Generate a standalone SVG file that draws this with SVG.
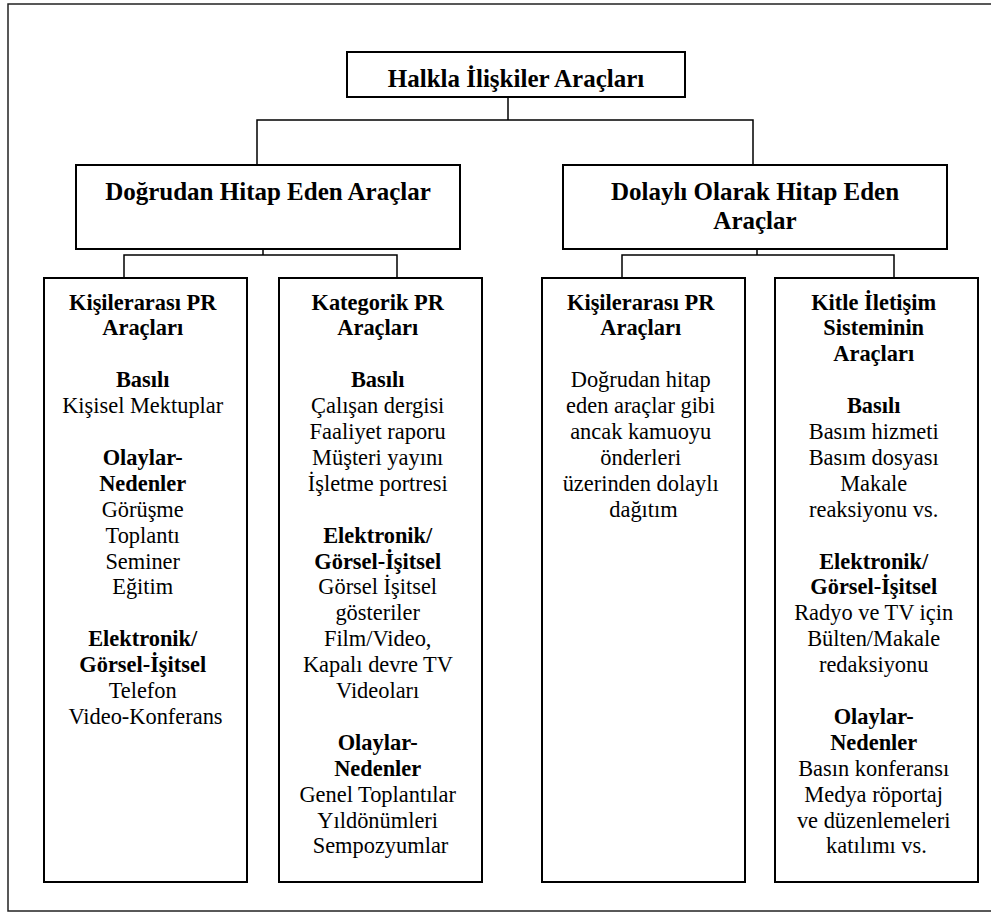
<svg xmlns="http://www.w3.org/2000/svg" width="991" height="912" viewBox="0 0 991 912">
<style>
.box{fill:#fff;stroke:#000;stroke-width:2}
.frame{fill:none;stroke:#222;stroke-width:1.5}
.con{fill:none;stroke:#000;stroke-width:1.5}
text{font-family:'Liberation Serif','Times New Roman',serif;fill:#000;text-anchor:middle}
.h{font-size:25px;font-weight:bold}
.t{font-size:22.4px}
.b{font-weight:bold}
</style>
<rect class="frame" x="8" y="4" width="1000" height="907"/>
<g id="connectors">
<polyline class="con" points="508,97 508,120"/>
<polyline class="con" points="257,164 257,120 753,120 753,164"/>
<polyline class="con" points="263,249 263,255"/>
<polyline class="con" points="124,278 124,255 397,255 397,278"/>
<polyline class="con" points="757,249 757,255"/>
<polyline class="con" points="622,278 622,255 894,255 894,278"/>
</g>
<g id="root">
<rect class="box" x="347" y="52" width="338" height="45"/>
<text class="h" x="516" y="86.5">Halkla İlişkiler Araçları</text>
</g>
<g id="direct">
<rect class="box" x="76" y="165" width="384" height="84"/>
<text class="h" x="268" y="200">Doğrudan Hitap Eden Araçlar</text>
</g>
<g id="indirect">
<rect class="box" x="563" y="165" width="384" height="84"/>
<text class="h" x="755" y="199.5">Dolaylı Olarak Hitap Eden</text>
<text class="h" x="755" y="228.5">Araçlar</text>
</g>
<g id="direct-interpersonal">
<rect class="box" x="44" y="278" width="203" height="604"/>
<text class="t" x="145.5">
<tspan class="b" x="145.5" y="309.5">Kişilerarası PR</tspan>
<tspan class="b" x="145.5" y="335.4">Araçları</tspan>
<tspan class="b" x="145.5" y="387.2">Basılı</tspan>
<tspan x="145.5" y="413.1">Kişisel Mektuplar</tspan>
<tspan class="b" x="145.5" y="464.9">Olaylar-</tspan>
<tspan class="b" x="145.5" y="490.8">Nedenler</tspan>
<tspan x="145.5" y="516.7">Görüşme</tspan>
<tspan x="145.5" y="542.6">Toplantı</tspan>
<tspan x="145.5" y="568.5">Seminer</tspan>
<tspan x="145.5" y="594.4">Eğitim</tspan>
<tspan class="b" x="145.5" y="646.2">Elektronik/</tspan>
<tspan class="b" x="145.5" y="672.1">Görsel-İşitsel</tspan>
<tspan x="145.5" y="698">Telefon</tspan>
<tspan x="145.5" y="723.9">Video-Konferans</tspan>
</text>
</g>
<g id="direct-categorical">
<rect class="box" x="279" y="278" width="203" height="604"/>
<text class="t" x="380.5">
<tspan class="b" x="380.5" y="309.5">Kategorik PR</tspan>
<tspan class="b" x="380.5" y="335.4">Araçları</tspan>
<tspan class="b" x="380.5" y="387.2">Basılı</tspan>
<tspan x="380.5" y="413.1">Çalışan dergisi</tspan>
<tspan x="380.5" y="439">Faaliyet raporu</tspan>
<tspan x="380.5" y="464.9">Müşteri yayını</tspan>
<tspan x="380.5" y="490.8">İşletme portresi</tspan>
<tspan class="b" x="380.5" y="542.6">Elektronik/</tspan>
<tspan class="b" x="380.5" y="568.5">Görsel-İşitsel</tspan>
<tspan x="380.5" y="594.4">Görsel İşitsel</tspan>
<tspan x="380.5" y="620.3">gösteriler</tspan>
<tspan x="380.5" y="646.2">Film/Video,</tspan>
<tspan x="380.5" y="672.1">Kapalı devre TV</tspan>
<tspan x="380.5" y="698">Videoları</tspan>
<tspan class="b" x="380.5" y="749.8">Olaylar-</tspan>
<tspan class="b" x="380.5" y="775.7">Nedenler</tspan>
<tspan x="380.5" y="801.6">Genel Toplantılar</tspan>
<tspan x="380.5" y="827.5">Yıldönümleri</tspan>
<tspan x="380.5" y="853.4">Sempozyumlar</tspan>
</text>
</g>
<g id="indirect-interpersonal">
<rect class="box" x="542" y="278" width="203" height="604"/>
<text class="t" x="643.5">
<tspan class="b" x="643.5" y="309.5">Kişilerarası PR</tspan>
<tspan class="b" x="643.5" y="335.4">Araçları</tspan>
<tspan x="643.5" y="387.2">Doğrudan hitap</tspan>
<tspan x="643.5" y="413.1">eden araçlar gibi</tspan>
<tspan x="643.5" y="439">ancak kamuoyu</tspan>
<tspan x="643.5" y="464.9">önderleri</tspan>
<tspan x="643.5" y="490.8">üzerinden dolaylı</tspan>
<tspan x="643.5" y="516.7">dağıtım</tspan>
</text>
</g>
<g id="indirect-mass">
<rect class="box" x="775" y="278" width="203" height="604"/>
<text class="t" x="876.5">
<tspan class="b" x="876.5" y="309.5">Kitle İletişim</tspan>
<tspan class="b" x="876.5" y="335.4">Sisteminin</tspan>
<tspan class="b" x="876.5" y="361.3">Araçları</tspan>
<tspan class="b" x="876.5" y="413.1">Basılı</tspan>
<tspan x="876.5" y="439">Basım hizmeti</tspan>
<tspan x="876.5" y="464.9">Basım dosyası</tspan>
<tspan x="876.5" y="490.8">Makale</tspan>
<tspan x="876.5" y="516.7">reaksiyonu vs.</tspan>
<tspan class="b" x="876.5" y="568.5">Elektronik/</tspan>
<tspan class="b" x="876.5" y="594.4">Görsel-İşitsel</tspan>
<tspan x="876.5" y="620.3">Radyo ve TV için</tspan>
<tspan x="876.5" y="646.2">Bülten/Makale</tspan>
<tspan x="876.5" y="672.1">redaksiyonu</tspan>
<tspan class="b" x="876.5" y="723.9">Olaylar-</tspan>
<tspan class="b" x="876.5" y="749.8">Nedenler</tspan>
<tspan x="876.5" y="775.7">Basın konferansı</tspan>
<tspan x="876.5" y="801.6">Medya röportaj</tspan>
<tspan x="876.5" y="827.5">ve düzenlemeleri</tspan>
<tspan x="876.5" y="853.4">katılımı vs.</tspan>
</text>
</g>
</svg>
